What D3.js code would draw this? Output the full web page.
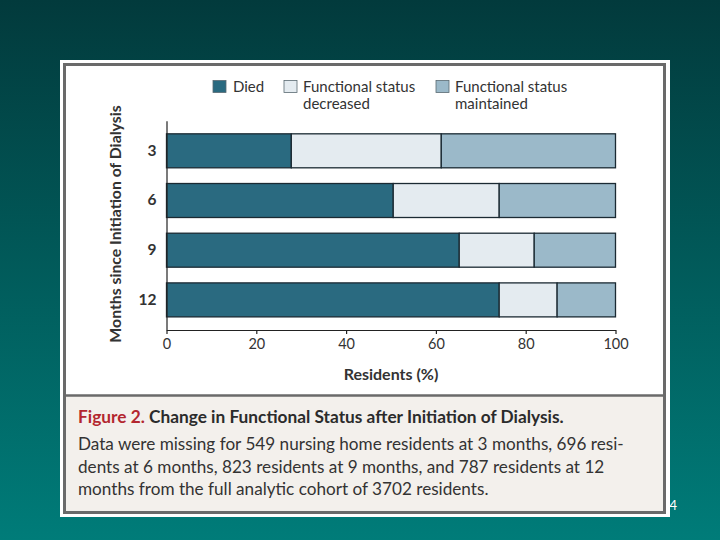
<!DOCTYPE html>
<html>
<head>
<meta charset="utf-8">
<script src="https://cdn.jsdelivr.net/npm/d3@7"></script>
<style>
  body { margin: 0; padding: 0; }
  svg { display: block; }
</style>
</head>
<body>
<div id="chart"></div>
<script>
// data (percent of residents)
var months = ["3", "6", "9", "12"];
var died = [27.8, 50.5, 65.2, 74.1];
var decreased = [33.4, 23.6, 16.7, 12.9];
var maintained = [38.8, 25.9, 18.1, 13.0];
var seriesNames = ["Died", "Functional status decreased", "Functional status maintained"];
var xTicks = [0, 20, 40, 60, 80, 100];

var colors = ["#2a6a80", "#e4ebf0", "#9bb9c9"];

var svgWidth = 720;
var svgHeight = 540;

var svg = d3.select("#chart")
    .append("svg")
    .attr("width", svgWidth)
    .attr("height", svgHeight)
    .style("font-family", "Lato, 'Open Sans', sans-serif");

// background gradient
var defs = svg.append("defs");
var grad = defs.append("linearGradient")
    .attr("id", "bg")
    .attr("x1", 0).attr("y1", 0).attr("x2", 0).attr("y2", 1);
grad.append("stop").attr("offset", "0%").attr("stop-color", "#023a3c");
grad.append("stop").attr("offset", "100%").attr("stop-color", "#007c79");

svg.append("rect")
    .attr("width", svgWidth)
    .attr("height", svgHeight)
    .attr("fill", "url(#bg)");

// page number (partly hidden by the panel)
svg.append("text")
    .attr("x", 677)
    .attr("y", 510)
    .attr("text-anchor", "end")
    .attr("fill", "#ffffff")
    .style("font-size", "13px")
    .text("14");

// panel frame
svg.append("rect")
    .attr("x", 60).attr("y", 60)
    .attr("width", 610).attr("height", 457)
    .attr("fill", "#ffffff");
svg.append("rect")
    .attr("x", 64.5).attr("y", 64.5)
    .attr("width", 600).attr("height", 448)
    .attr("fill", "#ffffff")
    .attr("stroke", "#6a6a6a")
    .attr("stroke-width", 3);
// caption area
svg.append("rect")
    .attr("x", 66).attr("y", 395)
    .attr("width", 597).attr("height", 116)
    .attr("fill", "#f3f0ec");
svg.append("line")
    .attr("x1", 66).attr("x2", 663)
    .attr("y1", 395.5).attr("y2", 395.5)
    .attr("stroke", "#6a6a6a")
    .attr("stroke-width", 2.5);

// chart area
var chartMargin = { top: 120.7, left: 166.5 };
var chartWidth = 615.5 - 166.5;
var chartHeight = 330 - 120.7;

var chartGroup = svg.append("g")
    .attr("transform", `translate(${chartMargin.left}, ${chartMargin.top})`);

var xScale = d3.scaleLinear()
    .domain([0, 100])
    .range([0, chartWidth]);

var yScale = d3.scaleBand()
    .domain(months)
    .range([0, chartHeight])
    .paddingInner(0.316)
    .paddingOuter(0.264);

// stack the three series
var rows = months.map(function(m, i) {
    return { month: m, died: died[i], decreased: decreased[i], maintained: maintained[i] };
});
var stack = d3.stack().keys(["died", "decreased", "maintained"]);
var stacked = stack(rows);

chartGroup.selectAll(".series")
    .data(stacked)
    .enter()
    .append("g")
    .attr("class", "series")
    .attr("fill", (d, i) => colors[i])
    .selectAll("rect")
    .data(d => d)
    .enter()
    .append("rect")
    .attr("x", d => xScale(d[0]))
    .attr("y", d => yScale(d.data.month))
    .attr("width", d => xScale(d[1]) - xScale(d[0]))
    .attr("height", yScale.bandwidth())
    .attr("stroke", "#1b2a33")
    .attr("stroke-width", 1.3);

// axes
var bottomAxis = d3.axisBottom(xScale).tickValues(xTicks).tickSize(4).tickSizeOuter(0).tickPadding(5);
var leftAxis = d3.axisLeft(yScale).tickSize(0).tickPadding(10);

var xAxisG = chartGroup.append("g")
    .attr("transform", `translate(0, ${chartHeight})`)
    .call(bottomAxis);
xAxisG.select(".domain").attr("stroke", "#222").attr("stroke-width", 1.2);
xAxisG.selectAll(".tick line").attr("stroke", "#222").attr("stroke-width", 1.2);
xAxisG.selectAll(".tick text")
    .attr("fill", "#333")
    .style("font-family", "Lato, sans-serif")
    .style("font-size", "14.5px");

var yAxisG = chartGroup.append("g").call(leftAxis);
yAxisG.select(".domain").attr("stroke", "#222").attr("stroke-width", 1.2);
yAxisG.selectAll(".tick text")
    .attr("fill", "#333")
    .style("font-family", "Lato, sans-serif")
    .style("font-weight", "bold")
    .style("font-size", "15.5px");

// axis titles
svg.append("text")
    .attr("x", 391)
    .attr("y", 380)
    .attr("text-anchor", "middle")
    .attr("fill", "#333")
    .style("font-size", "16px")
    .style("font-weight", "bold")
    .text("Residents (%)");

svg.append("text")
    .attr("transform", "translate(121, 224) rotate(-90)")
    .attr("text-anchor", "middle")
    .attr("fill", "#333")
    .style("font-size", "15.8px")
    .style("font-weight", "bold")
    .text("Months since Initiation of Dialysis");

// legend
var legendPos = [
    { x: 213, tx: 233, lines: ["Died"] },
    { x: 284, tx: 303, lines: ["Functional status", "decreased"] },
    { x: 436, tx: 455, lines: ["Functional status", "maintained"] }
];
var legend = svg.selectAll(".legend")
    .data(seriesNames)
    .enter()
    .append("g")
    .attr("class", "legend");
legend.append("rect")
    .attr("x", (d, i) => legendPos[i].x)
    .attr("y", 80.5)
    .attr("width", 13)
    .attr("height", 12)
    .attr("fill", (d, i) => colors[i])
    .attr("stroke", "#5a6a72")
    .attr("stroke-width", 0.8);
legend.append("text")
    .attr("x", (d, i) => legendPos[i].tx)
    .attr("y", 92)
    .attr("fill", "#333")
    .style("font-size", "15px")
    .selectAll("tspan")
    .data((d, i) => legendPos[i].lines)
    .enter()
    .append("tspan")
    .attr("x", function() { return d3.select(this.parentNode).attr("x"); })
    .attr("dy", (d, j) => j === 0 ? 0 : 17)
    .text(d => d);

// caption
var captionTitle = svg.append("text")
    .attr("x", 78)
    .attr("y", 423)
    .style("font-size", "17.3px")
    .style("font-weight", "bold");
captionTitle.append("tspan").attr("fill", "#b3272f").text("Figure 2. ");
captionTitle.append("tspan").attr("fill", "#2b2b2b").text("Change in Functional Status after Initiation of Dialysis.");

var captionLines = [
    "Data were missing for 549 nursing home residents at 3 months, 696 resi-",
    "dents at 6 months, 823 residents at 9 months, and 787 residents at 12",
    "months from the full analytic cohort of 3702 residents."
];
svg.selectAll(".caption")
    .data(captionLines)
    .enter()
    .append("text")
    .attr("class", "caption")
    .attr("x", 78)
    .attr("y", (d, i) => 450 + i * 22.5)
    .attr("fill", "#333")
    .style("font-size", "17.15px")
    .text(d => d);
</script>
</body>
</html>
